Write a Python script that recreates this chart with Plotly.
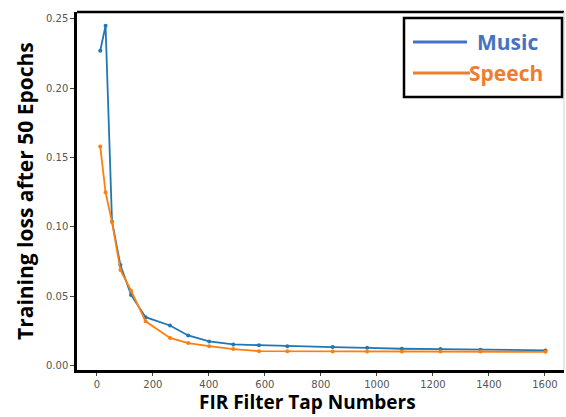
import plotly.graph_objects as go

taps = [12, 31, 54, 84, 122, 174, 261, 326, 401, 487, 579, 680, 842, 965, 1089, 1227, 1370, 1602]
music = [0.227, 0.245, 0.104, 0.0725, 0.051, 0.035, 0.029, 0.0218, 0.0175, 0.0153, 0.0148, 0.0141, 0.0134, 0.0129, 0.0122, 0.0120, 0.0115, 0.0110]
speech = [0.158, 0.125, 0.1036, 0.069, 0.054, 0.032, 0.020, 0.0163, 0.0141, 0.0120, 0.0105, 0.0105, 0.0103, 0.0103, 0.0103, 0.0103, 0.0102, 0.0100]
series_names = ["Music", "Speech"]
yticks = [0.00, 0.05, 0.10, 0.15, 0.20, 0.25]
xticks = [0, 200, 400, 600, 800, 1000, 1200, 1400, 1600]

fig = go.Figure()
fig.add_trace(go.Scatter(x=taps, y=music, mode="lines+markers", name=series_names[0],
                         line=dict(color="#1f77b4", width=1.8), marker=dict(size=4, color="#1f77b4")))
fig.add_trace(go.Scatter(x=taps, y=speech, mode="lines+markers", name=series_names[1],
                         line=dict(color="#ff7f0e", width=1.8), marker=dict(size=4, color="#ff7f0e")))

W, H = 566, 417
L, R, T, B = 77, 2, 12, 47
PW, PH = W - L - R, H - T - B

def px(x):
    return (x - L) / PW

def py(y):
    return (H - B - y) / PH

fig.update_layout(
    width=W, height=H,
    margin=dict(l=L, r=R, t=T, b=B),
    paper_bgcolor="white", plot_bgcolor="white",
    showlegend=False,
    xaxis=dict(range=[-71, 1668], tickvals=xticks, showgrid=False, zeroline=False,
               showline=True, linecolor="black", linewidth=2.5,
               ticks="outside", ticklen=3, tickcolor="#444", tickwidth=1,
               tickfont=dict(family="DejaVu Sans", size=10, color="#555")),
    yaxis=dict(range=[-0.0031, 0.2549], tickvals=yticks, tickformat=".2f", showgrid=False, zeroline=False,
               showline=True, linecolor="black", linewidth=2.5,
               ticks="outside", ticklen=4, tickcolor="#444", tickwidth=1,
               tickfont=dict(family="DejaVu Sans", size=10, color="#555")),
    shapes=[
        dict(type="line", xref="paper", yref="paper", x0=0, x1=1, y0=1, y1=1,
             line=dict(color="black", width=2.5)),
        dict(type="line", xref="paper", yref="paper", x0=1, x1=1, y0=0, y1=1,
             line=dict(color="#cccccc", width=1)),
        dict(type="rect", xref="paper", yref="paper",
             x0=px(404), x1=px(562), y0=py(97), y1=py(18),
             fillcolor="white", line=dict(color="black", width=2.5)),
        dict(type="line", xref="paper", yref="paper",
             x0=px(413), x1=px(467), y0=py(42), y1=py(42),
             line=dict(color="#4472C4", width=3)),
        dict(type="line", xref="paper", yref="paper",
             x0=px(413), x1=px(470), y0=py(73), y1=py(73),
             line=dict(color="#ED7D31", width=3)),
    ],
    annotations=[
        dict(text="<b>" + series_names[0] + "</b>", xref="paper", yref="paper",
             x=px(475), y=py(42), xanchor="left", yanchor="middle",
             showarrow=False, font=dict(family="Open Sans", size=21, color="#4472C4")),
        dict(text="<b>" + series_names[1] + "</b>", xref="paper", yref="paper",
             x=px(467), y=py(73), xanchor="left", yanchor="middle",
             showarrow=False, font=dict(family="Open Sans", size=21, color="#ED7D31")),
        dict(text="<b>Training loss after 50 Epochs</b>", xref="paper", yref="paper",
             x=px(25), y=py(191), xanchor="center", yanchor="middle",
             textangle=-90, showarrow=False, font=dict(family="Open Sans", size=21, color="black")),
        dict(text="<b>FIR Filter Tap Numbers</b>", xref="paper", yref="paper",
             x=px(307), y=py(416.5), xanchor="center", yanchor="bottom",
             showarrow=False, font=dict(family="Open Sans", size=19, color="black")),
    ],
)

fig.write_html("out.html")
